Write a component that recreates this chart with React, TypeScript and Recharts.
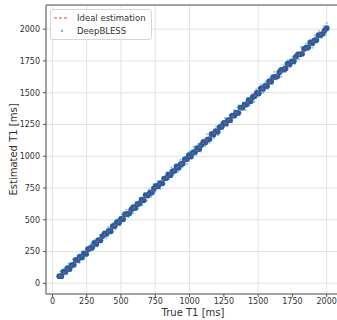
import React from "react";
import {
  CartesianGrid,
  ReferenceLine,
  Scatter,
  ScatterChart,
  XAxis,
  YAxis,
} from "recharts";

// reference T1 (x) and network output (y), ms — dense core of the cloud
const coreTrue = [
  50, 65, 80, 95, 110, 125, 140, 155, 170, 185, 200, 215, 230, 245, 260, 275, 290, 305, 320, 335,
  350, 365, 380, 395, 410, 425, 440, 455, 470, 485, 500, 515, 530, 545, 560, 575, 590, 605, 620, 635,
  650, 665, 680, 695, 710, 725, 740, 755, 770, 785, 800, 815, 830, 845, 860, 875, 890, 905, 920, 935,
  950, 965, 980, 995, 1010, 1025, 1040, 1055, 1070, 1085, 1100, 1115, 1130, 1145, 1160, 1175, 1190, 1205, 1220, 1235,
  1250, 1265, 1280, 1295, 1310, 1325, 1340, 1355, 1370, 1385, 1400, 1415, 1430, 1445, 1460, 1475, 1490, 1505, 1520, 1535,
  1550, 1565, 1580, 1595, 1610, 1625, 1640, 1655, 1670, 1685, 1700, 1715, 1730, 1745, 1760, 1775, 1790, 1805, 1820, 1835,
  1850, 1865, 1880, 1895, 1910, 1925, 1940, 1955, 1970, 1985, 2000,
];
const coreEstimated = [
  56, 56, 92, 91, 120, 112, 143, 147, 184, 183, 209, 204, 235, 231, 268, 276, 283, 318, 310, 339,
  338, 372, 391, 390, 412, 410, 449, 452, 482, 477, 506, 504, 544, 544, 551, 580, 600, 592, 623, 629,
  658, 653, 693, 691, 711, 715, 747, 767, 763, 789, 786, 824, 828, 856, 851, 881, 885, 920, 909, 937,
  942, 975, 977, 1008, 998, 1030, 1034, 1064, 1056, 1088, 1111, 1108, 1131, 1135, 1174, 1171, 1197, 1192, 1228, 1234,
  1262, 1256, 1284, 1284, 1320, 1319, 1342, 1340, 1383, 1382, 1406, 1407, 1441, 1433, 1465, 1473, 1499, 1495, 1534, 1530,
  1553, 1552, 1588, 1588, 1622, 1624, 1629, 1661, 1680, 1681, 1691, 1728, 1724, 1747, 1748, 1782, 1801, 1802, 1806, 1844,
  1854, 1857, 1895, 1890, 1911, 1915, 1952, 1953, 1963, 1991, 2008,
];

// looser estimates around the edges of the cloud
const spreadTrue = [
  58, 72, 88, 104, 118, 133, 150, 166, 182, 197, 214, 231, 247, 262, 279, 296, 311, 327, 344, 360,
  377, 393, 409, 426, 442, 458, 475, 491, 507, 524, 540, 556, 573, 589, 606, 622, 638, 655, 671, 688,
  704, 720, 737, 753, 769, 786, 802, 818, 835, 851, 867, 884, 900, 916, 933, 949, 965, 982, 998, 1014,
  1031, 1047, 1063, 1080, 1096, 1112, 1129, 1145, 1161, 1178, 1194, 1210, 1227, 1243, 1259, 1276, 1292, 1308, 1325, 1341,
  1357, 1374, 1390, 1406, 1423, 1439, 1455, 1472, 1488, 1504, 1521, 1537, 1553, 1570, 1586, 1602, 1619, 1635, 1651, 1668,
  1684, 1700, 1717, 1733, 1749, 1766, 1782, 1798, 1815, 1831, 1847, 1864, 1880, 1896, 1913, 1929, 1945, 1962, 1978, 1994,
  2000,
];
const spreadEstimated = [
  95, 40, 120, 70, 155, 98, 190, 132, 215, 160, 250, 196, 280, 222, 310, 260, 345, 290, 378, 322,
  410, 355, 442, 392, 476, 425, 508, 455, 541, 490, 578, 520, 604, 552, 640, 588, 672, 618, 707, 650,
  740, 682, 779, 722, 803, 742, 831, 782, 875, 818, 912, 855, 933, 875, 971, 914, 996, 939, 1035, 984,
  1074, 1010, 1095, 1038, 1131, 1080, 1173, 1107, 1191, 1144, 1233, 1165, 1261, 1212, 1300, 1240, 1322, 1268, 1362, 1308,
  1401, 1344, 1423, 1364, 1459, 1404, 1486, 1428, 1526, 1473, 1563, 1500, 1587, 1530, 1615, 1568, 1664, 1605, 1687, 1625,
  1716, 1664, 1757, 1701, 1784, 1725, 1812, 1761, 1858, 1798, 1885, 1834, 1914, 1854, 1949, 1894, 1985, 1931, 2022, 1958,
  2048,
];

// y = x reference
const idealTrue = [50, 2000];
const idealEstimated = [50, 2000];

const xTicks = [0, 250, 500, 750, 1000, 1250, 1500, 1750, 2000];
const yTicks = [0, 250, 500, 750, 1000, 1250, 1500, 1750, 2000];
const xDomain = [-47, 2097];
const yDomain = [-84, 2190];

const toPoints = (xs: number[], ys: number[]) => xs.map((x, i) => ({ x, y: ys[i] }));
const corePoints = toPoints(coreTrue, coreEstimated);
const spreadPoints = toPoints(spreadTrue, spreadEstimated);
const idealPoints = toPoints(idealTrue, idealEstimated);

const FONT = "'DejaVu Sans', sans-serif";
const tickStyle = { fontSize: 8, fill: "#333", fontFamily: FONT };

const dot = (r: number, fill: string, opacity = 1) => (p: any) =>
  <circle cx={p.cx} cy={p.cy} r={r} fill={fill} fillOpacity={opacity} />;

const YLabel = ({ viewBox }: any) => {
  const cx = 13;
  const cy = viewBox.y + viewBox.height / 2;
  return (
    <text
      x={cx}
      y={cy}
      transform={`rotate(-90 ${cx} ${cy})`}
      textAnchor="middle"
      dominantBaseline="central"
      fontSize={10}
      fontFamily={FONT}
      fill="#333"
    >
      Estimated T1 [ms]
    </text>
  );
};

const LegendBox = () => (
  <div
    style={{
      position: "absolute",
      left: 50,
      top: 9,
      width: 100,
      height: 29,
      border: "1px solid #d6d6d6",
      borderRadius: 3,
      background: "rgba(255,255,255,0.85)",
      fontFamily: FONT,
      fontSize: 8.5,
      color: "#333",
    }}
  >
    <svg width={20} height={29} style={{ position: "absolute", left: 0, top: 0 }}>
      <line x1={3} x2={18} y1={8} y2={8} stroke="#e0474c" strokeWidth={1.2} strokeDasharray="3 2" />
      <circle cx={11} cy={21} r={0.9} fill="#3d8fcf" />
    </svg>
    <div style={{ position: "absolute", left: 26, top: 2, lineHeight: "12px" }}>Ideal estimation</div>
    <div style={{ position: "absolute", left: 26, top: 15, lineHeight: "12px" }}>DeepBLESS</div>
  </div>
);

export default function App() {
  return (
    <div style={{ position: "absolute", left: 0, top: 0, width: 337, height: 320, overflow: "hidden", background: "#fff" }}>
      <ScatterChart width={345} height={320} margin={{ top: 5, right: 5, bottom: 0, left: 0 }}>
        <CartesianGrid stroke="#e2e2e2" strokeWidth={1} />
        <XAxis
          type="number"
          dataKey="x"
          domain={xDomain}
          ticks={xTicks}
          allowDataOverflow
          height={26}
          tick={tickStyle}
          tickSize={3}
          tickMargin={1}
          axisLine={{ stroke: "#555" }}
          tickLine={{ stroke: "#555" }}
          label={{ value: "True T1 [ms]", position: "insideBottom", offset: 4, fontSize: 10, fill: "#333", fontFamily: FONT }}
        />
        <YAxis
          type="number"
          dataKey="y"
          domain={yDomain}
          ticks={yTicks}
          allowDataOverflow
          width={46}
          tick={tickStyle}
          tickSize={3}
          tickMargin={3}
          axisLine={{ stroke: "#555" }}
          tickLine={{ stroke: "#555" }}
          label={{ content: YLabel }}
        />
        <ReferenceLine y={yDomain[1]} stroke="#555" />
        <Scatter data={spreadPoints} shape={dot(1.1, "#56b0e4", 0.75)} isAnimationActive={false} />
        <Scatter data={corePoints} shape={dot(2.9, "#22609f")} isAnimationActive={false} />
        <Scatter
          data={idealPoints}
          shape={() => <g />}
          line={{ stroke: "#d8405a", strokeWidth: 1.1, strokeDasharray: "3 2" }}
          isAnimationActive={false}
        />
      </ScatterChart>
      <LegendBox />
    </div>
  );
}
